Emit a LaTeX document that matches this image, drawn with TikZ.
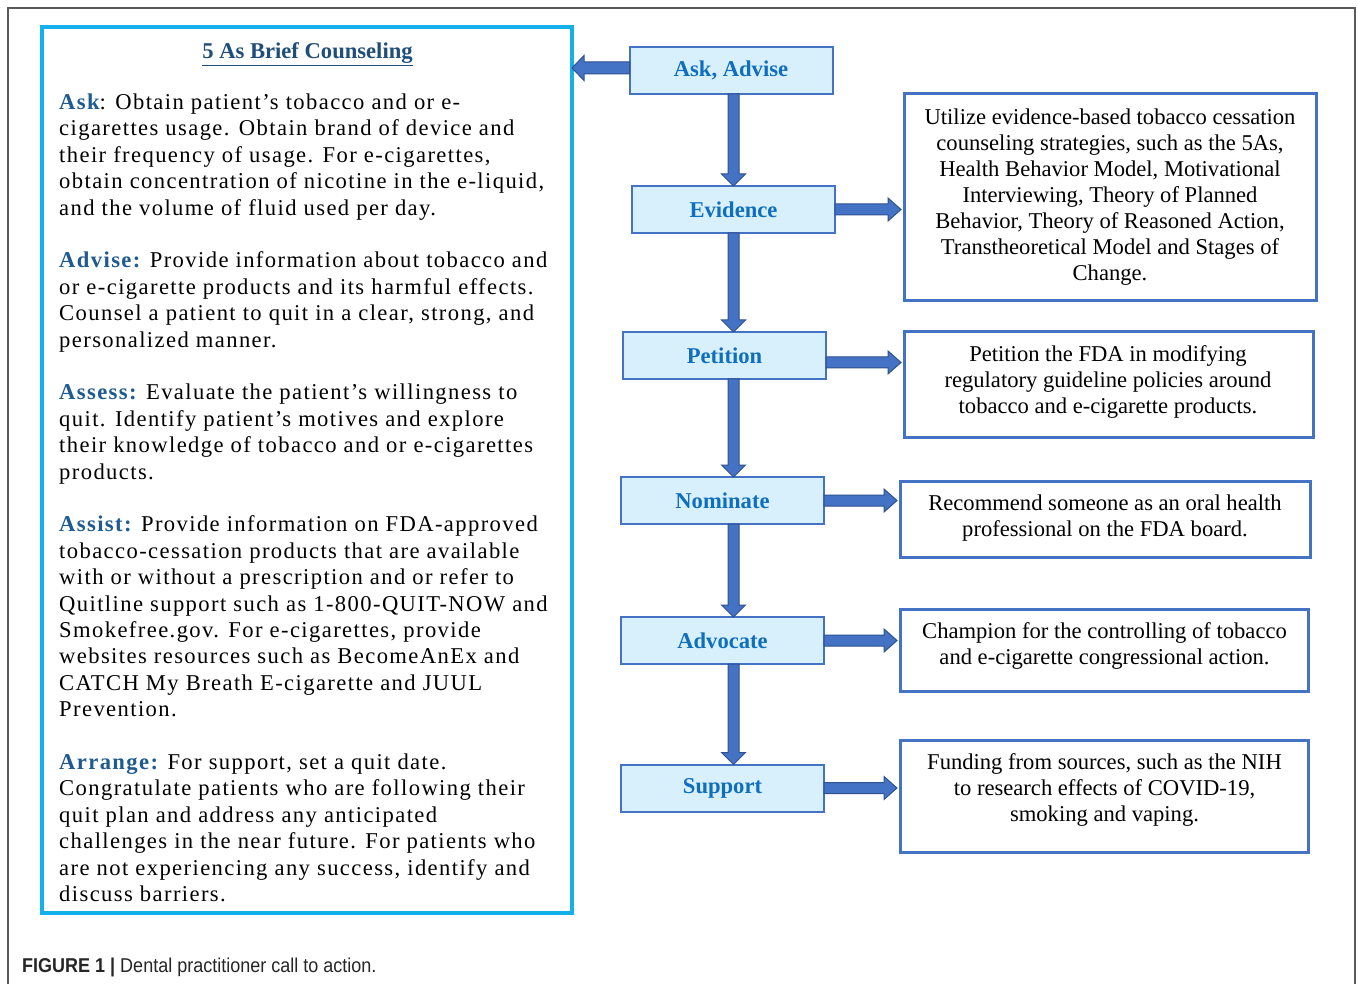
\documentclass[tikz,border=0pt]{standalone}
\usepackage{fontspec}
\setmainfont{Liberation Serif}
\newfontfamily\bodyfont[LetterSpace=6.2]{Liberation Serif}
\newfontfamily\capfont[FakeStretch=0.9]{Liberation Sans}
\usetikzlibrary{calc}
\definecolor{cyanb}{RGB}{20,176,236}
\definecolor{flowfill}{RGB}{215,240,251}
\definecolor{flowborder}{RGB}{68,114,196}
\definecolor{flowtext}{RGB}{16,110,190}
\definecolor{arrowfill}{RGB}{68,114,196}
\definecolor{arrowedge}{RGB}{47,82,143}
\definecolor{rborder}{RGB}{68,114,196}
\definecolor{kwcolor}{RGB}{31,90,145}
\definecolor{titlecol}{RGB}{31,78,121}
\definecolor{framegrey}{RGB}{90,90,90}
\newcommand{\kw}[1]{{\bfseries\color{kwcolor}#1}}
\newcommand{\vblockarrow}[3]{%
  \path[arrowshape] let \p1=(#1.south), \p2=(#2.north), \p3=(#3.center) in
   (\x3-5.5pt,\y1) -- (\x3-5.5pt,\y2+12pt) -- (\x3-12pt,\y2+12pt) -- (\x3,\y2)
   -- (\x3+12pt,\y2+12pt) -- (\x3+5.5pt,\y2+12pt) -- (\x3+5.5pt,\y1) -- cycle;}
\newcommand{\hblockarrow}[3]{%
  \path[arrowshape] let \p1=(#1.east), \p2=(#2.west) in
   (\x1,\y1-#3-5.5pt) -- (\x2-16pt,\y1-#3-5.5pt) -- (\x2-16pt,\y1-#3-11.5pt) -- (\x2-3pt,\y1-#3)
   -- (\x2-16pt,\y1-#3+11.5pt) -- (\x2-16pt,\y1-#3+5.5pt) -- (\x1,\y1-#3+5.5pt) -- cycle;}
\begin{document}
\begin{tikzpicture}[x=1pt,y=-1pt,
  flowbox/.style={draw=flowborder, line width=2pt, fill=flowfill, minimum width=203pt, minimum height=47pt,
     inner sep=0pt, outer sep=0pt, font=\fontsize{22.6}{26}\selectfont\bfseries, text=flowtext},
  rbox/.style={draw=rborder, line width=3pt, fill=white, inner sep=0pt, outer sep=0pt},
  rtext/.style={align=center, font=\fontsize{22.6}{26}\selectfont, inner sep=0pt},
  bl/.style={anchor=base west, inner sep=0pt, font=\bodyfont\fontsize{22.6}{26.4}\selectfont},
  arrowshape/.style={fill=arrowfill, draw=arrowedge, line width=1pt, line join=miter}]
\useasboundingbox (0,0) rectangle (1358,984);
\fill[white] (0,0) rectangle (1358,984);
% outer frame
\draw[framegrey, line width=1.5pt] (8,984) -- (8,8) -- (1355,8) -- (1355,984);

% left box
\node[draw=cyanb, line width=3.5pt, minimum width=530pt, minimum height=886pt, inner sep=0pt, outer sep=0pt] (lbox) at (307,470) {};
\node[anchor=base, inner sep=0pt, font=\fontsize{22.6}{26}\selectfont\bfseries, text=titlecol] (title) at (307.5,58.5) {\underline{5 As Brief Counseling}};

\foreach \t [count=\i from 0] in {
  {\kw{Ask}: Obtain patient’s tobacco and or e-},
  {cigarettes usage. Obtain brand of device and},
  {their frequency of usage. For e-cigarettes,},
  {obtain concentration of nicotine in the e-liquid,},
  {and the volume of fluid used per day.}}
  \node[bl] (ask\i) at (59,{109.5+(0+\i)*26.4}) {\t};
\foreach \t [count=\i from 0] in {
  {\kw{Advise:} Provide information about tobacco and},
  {or e-cigarette products and its harmful effects.},
  {Counsel a patient to quit in a clear, strong, and},
  {personalized manner.}}
  \node[bl] (adv\i) at (59,{109.5+(6+\i)*26.4}) {\t};
\foreach \t [count=\i from 0] in {
  {\kw{Assess:} Evaluate the patient’s willingness to},
  {quit. Identify patient’s motives and explore},
  {their knowledge of tobacco and or e-cigarettes},
  {products.}}
  \node[bl] (ass\i) at (59,{109.5+(11+\i)*26.4}) {\t};
\foreach \t [count=\i from 0] in {
  {\kw{Assist:} Provide information on FDA-approved},
  {tobacco-cessation products that are available},
  {with or without a prescription and or refer to},
  {Quitline support such as 1-800-QUIT-NOW and},
  {Smokefree.gov. For e-cigarettes, provide},
  {websites resources such as BecomeAnEx and},
  {CATCH My Breath E-cigarette and JUUL},
  {Prevention.}}
  \node[bl] (asi\i) at (59,{109.5+(16+\i)*26.4}) {\t};
\foreach \t [count=\i from 0] in {
  {\kw{Arrange:} For support, set a quit date.},
  {Congratulate patients who are following their},
  {quit plan and address any anticipated},
  {challenges in the near future. For patients who},
  {are not experiencing any success, identify and},
  {discuss barriers.}}
  \node[bl] (arr\i) at (59,{109.5+(25+\i)*26.4}) {\t};

% flow boxes
\node[flowbox] (ask) at (731,70.5) {Ask, Advise};
\node[flowbox] (evid) at (733.5,209.5) {Evidence};
\node[flowbox] (pet) at (724.5,355.5) {Petition};
\node[flowbox] (nom) at (722.5,500.5) {Nominate};
\node[flowbox] (advo) at (722.5,640.5) {Advocate};
\node[flowbox] (sup) at (722.5,788) {Support};

% right boxes
\node[rbox, minimum width=412pt, minimum height=207pt] (r1) at (1110,197.5) {};
\node[rbox, minimum width=409pt, minimum height=105pt] (r2) at (1108.5,384.5) {};
\node[rbox, minimum width=410pt, minimum height=76pt] (r3) at (1105,519) {};
\node[rbox, minimum width=408pt, minimum height=82pt] (r4) at (1104,650) {};
\node[rbox, minimum width=408pt, minimum height=112pt] (r5) at (1104,796) {};

\node[rtext] (t1) at (1110,197) {Utilize evidence-based tobacco cessation\\counseling strategies, such as the 5As,\\Health Behavior Model, Motivational\\Interviewing, Theory of Planned\\Behavior, Theory of Reasoned Action,\\Transtheoretical Model and Stages of\\Change.};
\node[rtext] (t2) at (1108,382) {Petition the FDA in modifying\\regulatory guideline policies around\\tobacco and e-cigarette products.};
\node[rtext] (t3) at (1105,518) {Recommend someone as an oral health\\professional on the FDA board.};
\node[rtext] (t4) at (1104.5,646) {Champion for the controlling of tobacco\\and e-cigarette congressional action.};
\node[rtext] (t5) at (1104.5,790) {Funding from sources, such as the NIH\\to research effects of COVID-19,\\smoking and vaping.};

% vertical arrows
\vblockarrow{ask}{evid}{evid}
\vblockarrow{evid}{pet}{evid}
\vblockarrow{pet}{nom}{evid}
\vblockarrow{nom}{advo}{evid}
\vblockarrow{advo}{sup}{evid}

% horizontal arrows
\hblockarrow{evid}{r1}{0pt}
\hblockarrow{pet}{r2}{7pt}
\hblockarrow{nom}{r3}{0pt}
\hblockarrow{advo}{r4}{0pt}
\hblockarrow{sup}{r5}{0pt}

% left arrow
\path[arrowshape] let \p1=(ask.west), \p2=(lbox.east) in
  (\x1,\y1+2.5pt+6pt) -- (\x2+12pt,\y1+2.5pt+6pt) -- (\x2+12pt,\y1+2.5pt+12.5pt) -- (\x2,\y1+2.5pt)
  -- (\x2+12pt,\y1+2.5pt-12.5pt) -- (\x2+12pt,\y1+2.5pt-6pt) -- (\x1,\y1+2.5pt-6pt) -- cycle;

% caption
\node[anchor=base west, inner sep=0pt, font=\capfont\fontsize{20}{24}\selectfont, text=black!85] (cap) at (22,972) {\textbf{FIGURE 1 |} Dental practitioner call to action.};
\end{tikzpicture}
\end{document}
